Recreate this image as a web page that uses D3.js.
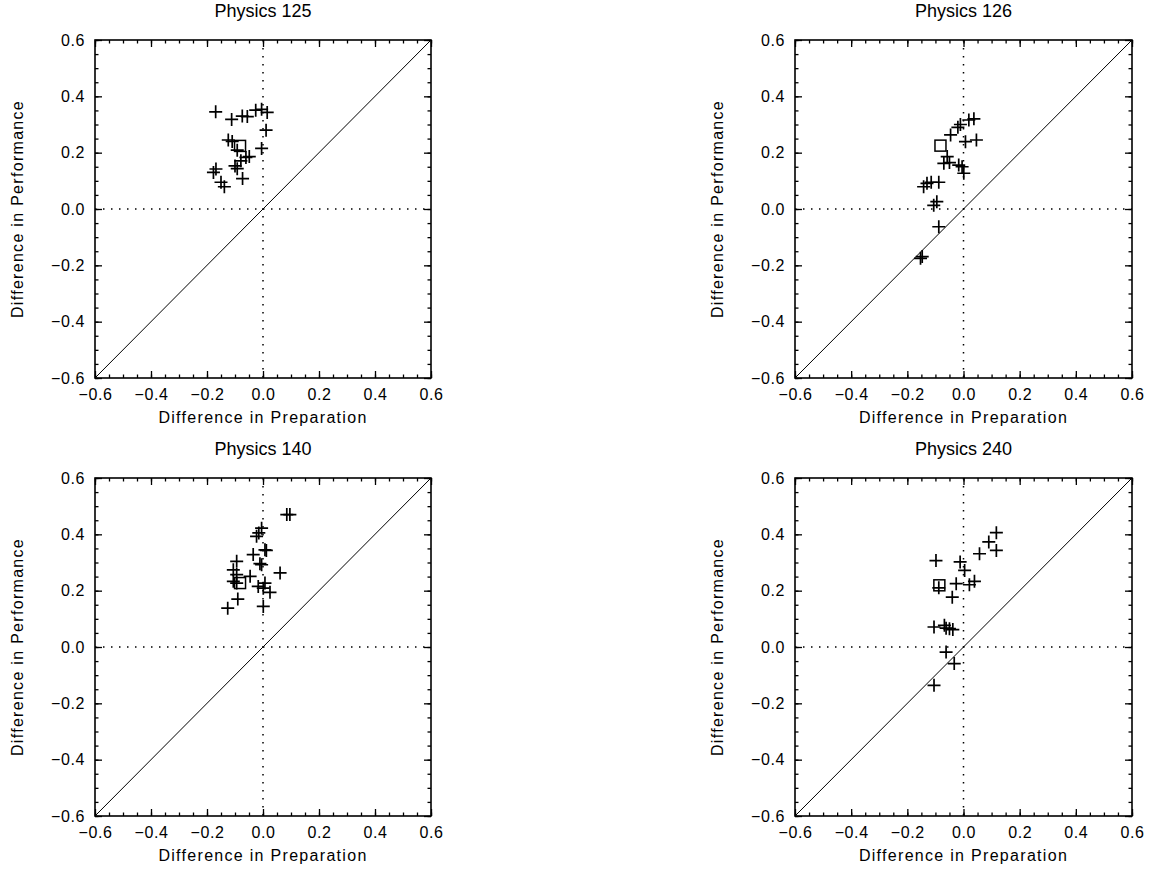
<!DOCTYPE html>
<html>
<head>
<meta charset="utf-8">
<script src="https://cdn.jsdelivr.net/npm/d3@7"></script>
<style>
  html, body { margin: 0; padding: 0; background: #fff; }
  svg { display: block; }
  text { font-family: "Liberation Sans", Arial, sans-serif; fill: #000; }
</style>
</head>
<body>
<svg id="chart" width="1151" height="870"></svg>
<script>
// ---------- data ----------
const panelTitles = ["Physics 125", "Physics 126", "Physics 140", "Physics 240"];

const p125X = [-0.169,-0.112,-0.074,-0.056,-0.026,-0.005,0.015,0.011,-0.005,-0.124,-0.110,-0.092,-0.061,-0.079,-0.049,-0.100,-0.092,-0.168,-0.177,-0.150,-0.138,-0.073];
const p125Y = [0.345,0.318,0.330,0.328,0.351,0.354,0.343,0.280,0.215,0.245,0.240,0.209,0.183,0.171,0.186,0.153,0.143,0.142,0.130,0.095,0.079,0.108];
const p125Mean = [-0.082, 0.224];

const p126X = [0.019,0.037,-0.011,-0.020,-0.046,0.007,0.046,-0.058,-0.070,-0.050,-0.017,-0.005,0.001,-0.130,-0.115,-0.088,-0.142,-0.095,-0.106,-0.088,-0.147,-0.153];
const p126Y = [0.316,0.320,0.300,0.290,0.263,0.239,0.245,0.186,0.162,0.165,0.156,0.150,0.127,0.091,0.095,0.095,0.079,0.026,0.013,-0.063,-0.169,-0.175];
const p126Mean = [-0.082, 0.225];

const p140X = [0.085,0.096,-0.005,-0.023,-0.015,0.007,0.012,-0.035,-0.011,-0.005,-0.094,-0.106,-0.094,0.061,-0.046,-0.106,-0.094,-0.017,0.007,0.001,0.025,-0.090,-0.126,0.001];
const p140Y = [0.470,0.470,0.422,0.393,0.405,0.345,0.343,0.328,0.296,0.292,0.304,0.274,0.257,0.263,0.251,0.233,0.227,0.215,0.227,0.209,0.194,0.170,0.138,0.144];
const p140Mean = [-0.082, 0.227];

const p240X = [-0.098,-0.012,0.004,0.057,0.090,0.117,0.117,-0.026,0.021,0.039,-0.040,-0.088,-0.105,-0.068,-0.062,-0.050,-0.038,-0.062,-0.033,-0.105];
const p240Y = [0.307,0.302,0.272,0.331,0.373,0.406,0.343,0.225,0.221,0.233,0.177,0.210,0.071,0.077,0.067,0.065,0.062,-0.018,-0.059,-0.136];
const p240Mean = [-0.086, 0.219];

const tickValues = [-0.6, -0.4, -0.2, 0.0, 0.2, 0.4, 0.6];
const tickLabels = ["\u22120.6", "\u22120.4", "\u22120.2", "0.0", "0.2", "0.4", "0.6"];
const minorTickValues = d3.range(-0.6, 0.6001, 0.05).map(v => +v.toFixed(2));
const axisDomain = [-0.6, 0.6];
const xTitle = "Difference in Preparation";
const yTitle = "Difference in Performance";

const panelData = [
  { title: panelTitles[0], xs: p125X, ys: p125Y, mean: p125Mean },
  { title: panelTitles[1], xs: p126X, ys: p126Y, mean: p126Mean },
  { title: panelTitles[2], xs: p140X, ys: p140Y, mean: p140Mean },
  { title: panelTitles[3], xs: p240X, ys: p240Y, mean: p240Mean }
];

// ---------- layout ----------
const boxes = [
  { left: 95,  top: 40,  w: 336, h: 338 },
  { left: 795, top: 40,  w: 337, h: 338 },
  { left: 95,  top: 478, w: 336, h: 338 },
  { left: 795, top: 478, w: 337, h: 338 }
];

const svg = d3.select("#chart");

panelData.forEach((pd, i) => {
  const b = boxes[i];
  const g = svg.append("g").attr("transform", `translate(${b.left},${b.top})`);
  const x = d3.scaleLinear().domain(axisDomain).range([0, b.w]);
  const y = d3.scaleLinear().domain(axisDomain).range([b.h, 0]);

  const major = 7, minor = 3.5;
  const fmt = v => tickLabels[tickValues.findIndex(t => Math.abs(t - v) < 1e-9)] || "";

  const axB = d3.axisBottom(x).tickValues(tickValues).tickSize(-major).tickPadding(11).tickFormat(fmt);
  const axL = d3.axisLeft(y).tickValues(tickValues).tickSize(-major).tickPadding(10).tickFormat(fmt);
  const axT = d3.axisTop(x).tickValues(tickValues).tickSize(-major).tickFormat("");
  const axR = d3.axisRight(y).tickValues(tickValues).tickSize(-major).tickFormat("");
  const minorB = d3.axisBottom(x).tickValues(minorTickValues).tickSize(-minor).tickFormat("");
  const minorL = d3.axisLeft(y).tickValues(minorTickValues).tickSize(-minor).tickFormat("");
  const minorT = d3.axisTop(x).tickValues(minorTickValues).tickSize(-minor).tickFormat("");
  const minorR = d3.axisRight(y).tickValues(minorTickValues).tickSize(-minor).tickFormat("");

  const styleAxis = sel => {
    sel.select(".domain").remove();
    sel.selectAll("line").attr("stroke", "#000").attr("stroke-width", 1.3);
    sel.selectAll("text").style("font-family", "'Liberation Sans', Arial, sans-serif")
      .style("font-size", "16px").style("letter-spacing", "0.6px").attr("fill", "#000");
  };
  g.append("g").attr("transform", `translate(0,${b.h})`).call(minorB).call(styleAxis);
  g.append("g").call(minorL).call(styleAxis);
  g.append("g").call(minorT).call(styleAxis);
  g.append("g").attr("transform", `translate(${b.w},0)`).call(minorR).call(styleAxis);
  g.append("g").attr("transform", `translate(0,${b.h})`).call(axB).call(styleAxis);
  g.append("g").call(axL).call(styleAxis);
  g.append("g").call(axT).call(styleAxis);
  g.append("g").attr("transform", `translate(${b.w},0)`).call(axR).call(styleAxis);

  // frame
  g.append("rect").attr("x", 0).attr("y", 0).attr("width", b.w).attr("height", b.h)
    .attr("fill", "none").attr("stroke", "#000").attr("stroke-width", 1.6);

  // dotted zero lines
  g.append("line").attr("x1", x(0)).attr("x2", x(0)).attr("y1", 0).attr("y2", b.h)
    .attr("stroke", "#000").attr("stroke-width", 1.5).attr("stroke-dasharray", "1.5,6.5");
  g.append("line").attr("x1", 0).attr("x2", b.w).attr("y1", y(0)).attr("y2", y(0))
    .attr("stroke", "#000").attr("stroke-width", 1.5).attr("stroke-dasharray", "1.5,6.5");

  // diagonal y = x
  g.append("line").attr("x1", x(axisDomain[0])).attr("y1", y(axisDomain[0]))
    .attr("x2", x(axisDomain[1])).attr("y2", y(axisDomain[1]))
    .attr("stroke", "#000").attr("stroke-width", 1);

  // plus markers
  const pts = pd.xs.map((v, k) => [v, pd.ys[k]]);
  const s = 6.5;
  g.append("g").selectAll("path").data(pts).join("path")
    .attr("d", d => {
      const cx = x(d[0]), cy = y(d[1]);
      return `M${cx - s},${cy}H${cx + s}M${cx},${cy - s}V${cy + s}`;
    })
    .attr("stroke", "#000").attr("stroke-width", 1.7).attr("fill", "none");

  // mean square
  const q = 5.5;
  g.append("rect").attr("x", x(pd.mean[0]) - q).attr("y", y(pd.mean[1]) - q)
    .attr("width", 2 * q).attr("height", 2 * q)
    .attr("fill", "none").attr("stroke", "#000").attr("stroke-width", 1.5);

  // titles
  g.append("text").attr("x", b.w / 2).attr("y", -23).attr("text-anchor", "middle")
    .style("font-size", "18px").text(pd.title);
  g.append("text").attr("x", b.w / 2).attr("y", b.h + 45).attr("text-anchor", "middle")
    .style("font-size", "16px").style("letter-spacing", "1.3px").text(xTitle);
  g.append("text").attr("transform", `translate(-72,${b.h / 2}) rotate(-90)`)
    .attr("text-anchor", "middle").style("font-size", "16px").style("letter-spacing", "1.3px").text(yTitle);
});
</script>
</body>
</html>
